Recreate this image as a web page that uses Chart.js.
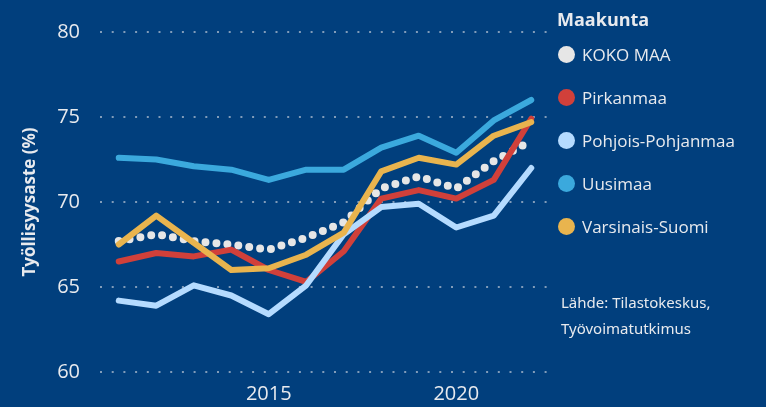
<!DOCTYPE html>
<html>
<head>
<meta charset="utf-8">
<script src="https://cdn.jsdelivr.net/npm/chart.js@4"></script>
<style>
  html, body { margin: 0; padding: 0; background: #013f7d; }
  #wrap { position: relative; width: 766px; height: 407px; font-family: "Open Sans", sans-serif; color: #e8eaee; }
  #chart { position: absolute; left: 0; top: 0; }
  #legend { position: absolute; left: 557px; top: 6px; }
  #legend .title { font-weight: bold; font-size: 18px; height: 27px; line-height: 27px; }
  #legend .item { position: relative; height: 43px; line-height: 43px; padding-left: 25px; font-size: 17px; }
  #legend .dot { position: absolute; left: 1px; top: 13px; width: 17px; height: 17px; border-radius: 50%; }
  #source { position: absolute; left: 561px; top: 289px; font-size: 15px; line-height: 26px; font-family: "Noto Sans", sans-serif; }
</style>
</head>
<body>
<div id="wrap">
  <canvas id="chart" width="766" height="407"></canvas>
  <div id="legend"><div class="title">Maakunta</div></div>
  <div id="source">Lähde: Tilastokeskus,<br>Työvoimatutkimus</div>
</div>
<script>
const vuodet = ["2011", "2012", "2013", "2014", "2015", "2016", "2017", "2018", "2019", "2020", "2021", "2022"];
const maakunnat = ["KOKO MAA", "Pirkanmaa", "Pohjois-Pohjanmaa", "Uusimaa", "Varsinais-Suomi"];
const vareja = ["#e6e6e6", "#d1403a", "#b5dbff", "#3ba9dd", "#e9b44e"];

const kokoMaa = [67.7, 68.1, 67.7, 67.5, 67.2, 67.9, 68.8, 70.8, 71.5, 70.8, 72.4, 73.6];
const pirkanmaa = [66.5, 67.0, 66.8, 67.2, 66.0, 65.3, 67.1, 70.2, 70.7, 70.2, 71.3, 74.9];
const pohjoisPohjanmaa = [64.2, 63.9, 65.1, 64.5, 63.4, 65.1, 68.1, 69.7, 69.9, 68.5, 69.2, 72.0];
const uusimaa = [72.6, 72.5, 72.1, 71.9, 71.3, 71.9, 71.9, 73.2, 73.9, 72.9, 74.8, 76.0];
const varsinaisSuomi = [67.5, 69.2, 67.6, 66.0, 66.1, 66.9, 68.2, 71.8, 72.6, 72.2, 73.9, 74.7];

const yTicks = [60, 65, 70, 75, 80];
const xShown = ["2015", "2020"];

const sarjat = [kokoMaa, pirkanmaa, pohjoisPohjanmaa, uusimaa, varsinaisSuomi];

const datasets = sarjat.map((data, i) => ({
    label: maakunnat[i],
    data: data,
    borderColor: vareja[i],
    backgroundColor: vareja[i],
    borderWidth: i === 0 ? 8 : 6,
    borderDash: i === 0 ? [0, 11] : [],
    borderCapStyle: "round",
    borderJoinStyle: "round",
    pointRadius: 0,
    tension: 0,
    order: maakunnat.length - i,
}));

// legend as html next to the plot
const legend = document.getElementById("legend");
maakunnat.forEach((nimi, i) => {
    const row = document.createElement("div");
    row.className = "item";
    row.innerHTML = '<span class="dot" style="background:' + vareja[i] + '"></span>' + nimi;
    legend.appendChild(row);
});

new Chart(document.getElementById("chart"), {
    type: "line",
    data: { labels: vuodet, datasets: datasets },
    options: {
        responsive: false,
        animation: false,
        layout: { padding: { top: 20, right: 216, left: 0, bottom: 0 } },
        plugins: {
            legend: { display: false },
            tooltip: { enabled: false },
        },
        scales: {
            x: {
                offset: true,
                grid: { display: false },
                border: { display: false },
                ticks: {
                    color: "#e8eaee",
                    font: { family: "Open Sans", size: 20 },
                    autoSkip: false,
                    maxRotation: 0,
                    padding: 2,
                    callback: function (v, i) {
                        const l = vuodet[i];
                        return xShown.includes(l) ? l : "";
                    },
                },
                afterFit: s => { s.height = 35; },
            },
            y: {
                min: 60,
                max: 80,
                grid: {
                    color: "rgba(200, 206, 218, 0.65)",
                    lineWidth: 2,
                    drawTicks: false,
                },
                border: { display: false, dash: [2, 9.7] },
                afterBuildTicks: s => { s.ticks = yTicks.map(v => ({ value: v })); },
                ticks: {
                    color: "#e8eaee",
                    font: { family: "Open Sans", size: 20 },
                    padding: 20,
                },
                title: {
                    display: true,
                    text: "Työllisyysaste (%)",
                    color: "#e8eaee",
                    font: { family: "Open Sans", size: 17, weight: "bold" },
                    padding: { top: 20, bottom: 0 },
                },
                afterFit: s => { s.width = 100; },
            },
        },
    },
});
</script>
</body>
</html>
